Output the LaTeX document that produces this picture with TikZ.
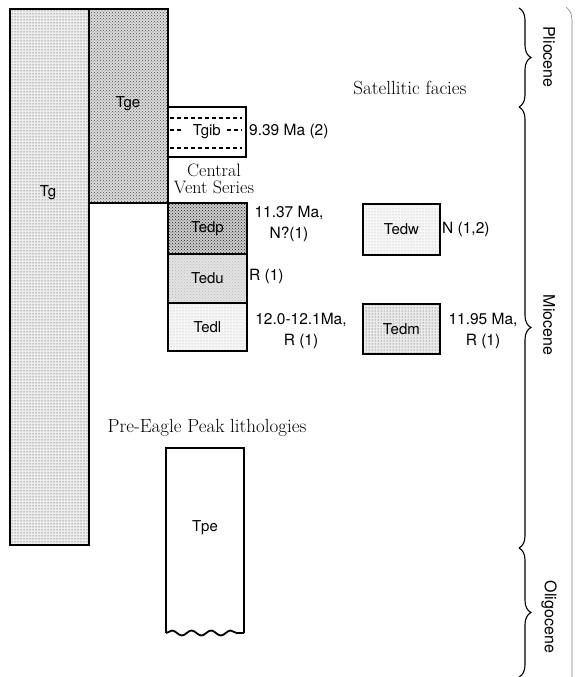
\documentclass[tikz,border=0pt]{standalone}
\usepackage{fontspec}
\setmainfont{TeX Gyre Heros}
\newfontfamily\capfont{Latin Modern Roman}
\usetikzlibrary{patterns,decorations.pathreplacing,decorations.pathmorphing}
\begin{document}
\begin{tikzpicture}[x=1pt,y=-1pt,
    unit/.style={draw, line width=1.8pt, anchor=north west, inner sep=0pt, minimum width=79pt, font=\fontsize{15}{15}\selectfont},
    age/.style={align=center, inner sep=0pt, font=\fontsize{15.5}{21}\selectfont},
    captext/.style={align=center, inner sep=0pt, font=\capfont\fontsize{19}{19}\selectfont},
    epoch/.style={rotate=-90, inner sep=0pt, font=\fontsize{16}{16}\selectfont},
    epochbrace/.style={decorate, decoration={brace, amplitude=12pt}, line width=1.1pt}]
        \useasboundingbox (0,0) rectangle (579,677);
        \definecolor{myink}{RGB}{30,30,30}
        \node[unit, minimum height=536pt, preaction={fill=gray!14}, pattern=dots, pattern color=black!80] (tg) at (9,8) {};
        \node[unit, minimum height=194pt, preaction={fill=gray!28}, pattern=crosshatch dots, pattern color=black!70] (tge) at (88,8) {};
        \node[unit, minimum width=78pt, minimum height=50pt, fill=white] (tgib) at (167,106) {Tgib};
        \node[unit, minimum height=51pt, preaction={fill=gray!40}, pattern=crosshatch dots, pattern color=myink] (tedp) at (167,202) {Tedp};
        \node[unit, minimum height=49pt, preaction={fill=gray!22}, pattern=crosshatch dots, pattern color=gray!55] (tedu) at (167,253) {Tedu};
        \node[unit, minimum height=48pt, preaction={fill=gray!6}, pattern=dots, pattern color=gray!70] (tedl) at (167,302) {Tedl};
        \node[unit, minimum width=77pt, minimum height=51pt, preaction={fill=gray!6}, pattern=dots, pattern color=gray!65] (tedw) at (362,203) {Tedw};
        \node[unit, minimum width=77pt, minimum height=50pt, preaction={fill=gray!16}, pattern=dots, pattern color=black!75] (tedm) at (362,303) {Tedm};
        \draw[line width=1.8pt] (244,633) -- (244,448) -- (166,448) -- (166,633);
        \draw[line width=1.8pt, decorate, decoration={snake, segment length=19.5pt, amplitude=2.5pt}] (166,633) -- (244,633);
        \draw[line width=1.3pt, dash pattern=on 4pt off 3pt] (170,118) -- (242,118) (170,148) -- (242,148)
            (170,130) -- (183,130) (227,130) -- (242,130);
        \node[font=\fontsize{15}{15}\selectfont, inner sep=0pt] (tglabel) at (48,193) {Tg};
        \node[font=\fontsize{15}{15}\selectfont, inner sep=0pt] (tgelabel) at (128,104) {Tge};
        \node[font=\fontsize{15}{15}\selectfont, inner sep=0pt] (tpelabel) at (205,528) {Tpe};
        \node[age, anchor=west] (agetgib) at (249,131) {9.39 Ma (2)};
        \node[age] (agetedp) at (289,224) {11.37 Ma,\\N?(1)};
        \node[age, anchor=west] (agetedu) at (249,276) {R (1)};
        \node[age] (agetedl) at (301,331) {12.0-12.1Ma,\\R (1)};
        \node[age, anchor=west] (agetedw) at (442,229) {N (1,2)};
        \node[age] (agetedm) at (483,331) {11.95 Ma,\\R (1)};
        \node[captext, font=\capfont\fontsize{18}{17.5}\selectfont] (central) at (214,179) {Central\\Vent Series};
        \node[captext] (satellitic) at (410,88) {Satellitic facies};
        \node[captext] (preeagle) at (207,428) {Pre-Eagle Peak lithologies};
        \draw[epochbrace] (519,8) -- (519,107);
        \draw[epochbrace] (519,107) -- (519,548);
        \draw[epochbrace] (519,548) -- (519,677);
        \node[epoch] (pliocene) at (549,57) {Pliocene};
        \node[epoch] (miocene) at (549,325) {Miocene};
        \node[epoch] (oligocene) at (549,617) {Oligocene};
        \draw[gray, line width=0.6pt] (566,7) .. controls (571,12) .. (572,20) -- (572,677);
    \end{tikzpicture}
\end{document}
